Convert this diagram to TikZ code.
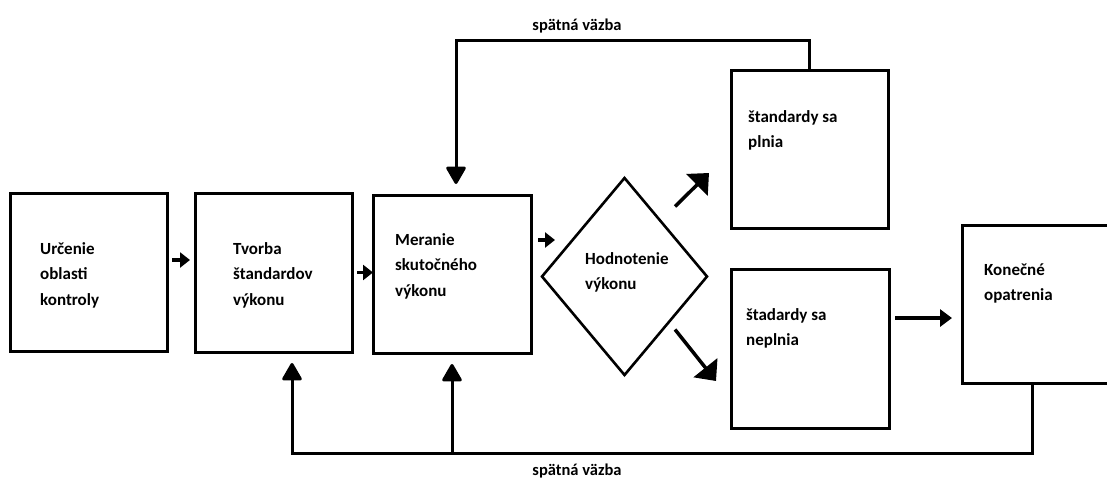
\documentclass[tikz,border=0pt]{standalone}
\usepackage{fontspec}
\setmainfont{Carlito}[BoldFont={Carlito Bold}]
\usetikzlibrary{arrows.meta,shapes.geometric,calc}

\begin{document}
\begin{tikzpicture}[x=1pt,y=-1pt,
  box/.style={draw, line width=3pt, rectangle, outer sep=0pt, inner sep=0pt,
              minimum width=157pt, minimum height=158pt},
  decision/.style={draw, line width=2.6pt, diamond, outer sep=0pt, inner sep=0pt,
              minimum width=165pt, minimum height=197pt},
  txt/.style={anchor=base west, inner sep=0pt, align=left,
              font=\fontsize{17}{25.5}\selectfont\bfseries},
  lbl/.style={anchor=base, inner sep=0pt, font=\fontsize{16.5}{20}\selectfont\bfseries},
  flow/.style={line width=3.5pt, -{Triangle[length=10pt,width=15pt]}},
  flowwide/.style={line width=3.5pt, -{Triangle[length=17pt,width=30pt]}},
  fb/.style={line width=3pt},
  fbarr/.style={line width=3pt, -{Triangle[length=19pt,width=21pt,round]}}
]
\useasboundingbox[fill=white] (0,0) rectangle (1107,479);

% process boxes
\node[box] (b1) at (88.5,272) {};
\node[box, minimum height=159pt] (b2) at (273.5,272.5) {};
\node[box, minimum width=158pt] (b3) at (452,274) {};
\node[decision] (d) at (624.5,276.5) {};
\node[box] (b4) at (809.5,149) {};
\node[box, minimum width=158pt, minimum height=159pt] (b5) at (810,348.5) {};
\node[box] (b6) at (1040.5,304) {};

% box texts (anchored at the baseline of the last line)
\node[txt] (t1) at (40,305) {Určenie\\oblasti\\kontroly};
\node[txt] (t2) at (233,305) {Tvorba\\štandardov\\výkonu};
\node[txt] (t3) at (395,296) {Meranie\\skutočného\\výkonu};
\node[txt] (td) at (585,289.5) {Hodnotenie\\výkonu};
\node[txt] (t4) at (748,147.5) {štandardy sa\\plnia};
\node[txt] (t5) at (746,345.5) {štadardy sa\\neplnia};
\node[txt] (t6) at (984,300.5) {Konečné\\opatrenia};

% main flow
\draw[flow, shorten <=5pt, shorten >=5pt]
  ([yshift=12pt]b1.east) -- ([yshift=12pt]b1.east -| b2.west);
\draw[flow, shorten <=5pt]
  (b2.east) -- (b2.east -| b3.west);
\draw[flow] ([shift={(7pt,34pt)}]b3.east) -- ([shift={(13pt,34pt)}]b3.east -| d.west);
\draw[flowwide] ([shift={(-32pt,70pt)}]d.east) -- ([shift={(-22pt,55pt)}]b4.south west);
\draw[flowwide] ([shift={(-32pt,-53pt)}]d.east) -- ([shift={(-15pt,-32.5pt)}]b5.west);
\draw[line width=3.5pt, -{Triangle[length=12pt,width=17pt]}, shorten <=6pt, shorten >=10pt]
  ([yshift=30.5pt]b5.east) -- ([yshift=30.5pt]b5.east -| b6.west);

% feedback from "standards met"
\draw[fbarr] (b4.north) -- ++(0,-30) -| ([shift={(4pt,11pt)}]b3.north);
\node[lbl] (fbtop) at (577,30) {spätná väzba};

% feedback from final measures
\draw[fbarr] ([xshift=-8.5pt]b6.south) -- ++(0,70) coordinate (fbend)
  -| ([shift={(18.5pt,-11pt)}]b2.south);
\draw[fbarr] (fbend -| b3.south) -- ([yshift=-11pt]b3.south);
\node[lbl] (fbbot) at (577,475) {spätná väzba};
\end{tikzpicture}
\end{document}
